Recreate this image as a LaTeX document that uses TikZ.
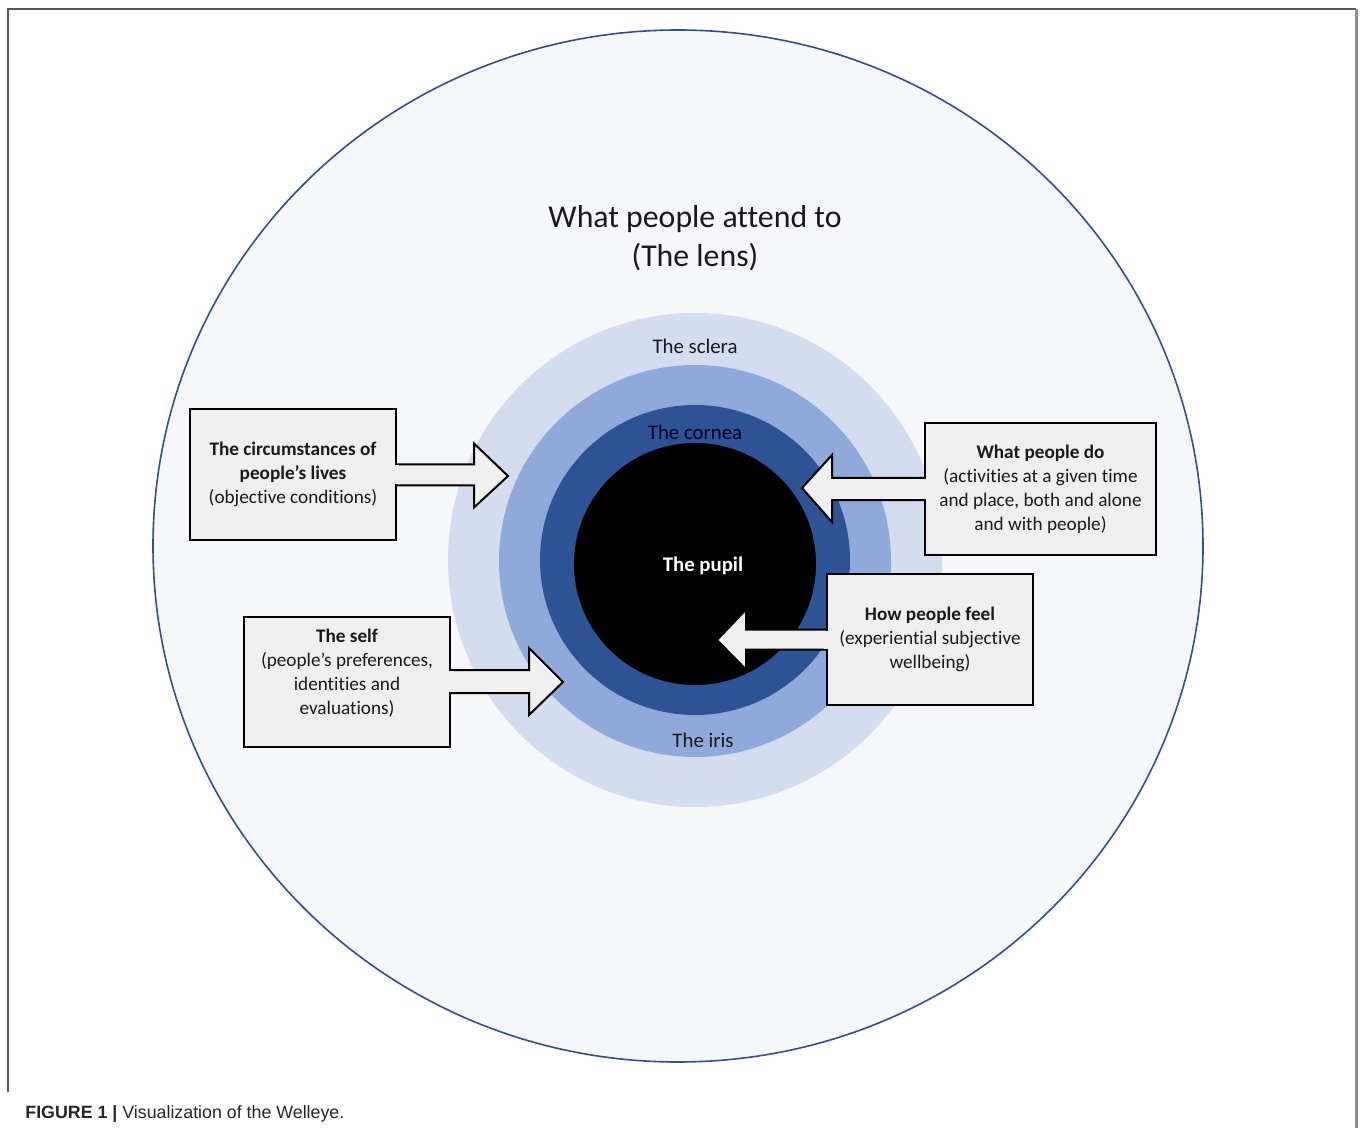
\documentclass[tikz,border=0pt]{standalone}
\usepackage{fontspec}
\setmainfont{Carlito}[Ligatures=NoCommon]
\newfontfamily\capfont{Liberation Sans}
\usetikzlibrary{calc}
\definecolor{lensfill}{HTML}{F5F7FB}
\definecolor{lensline}{HTML}{2F4F8F}
\definecolor{sclerablue}{HTML}{D4DDEF}
\definecolor{irisblue}{HTML}{8FA9DA}
\definecolor{corneablue}{HTML}{2E5394}
\definecolor{boxgray}{HTML}{EFEFEF}
\definecolor{framegray}{HTML}{555555}
\tikzset{
 welbox/.style={draw=black,fill=boxgray,line width=1pt,inner sep=0pt,align=center,
   font=\fontsize{9.6}{12}\selectfont,text=black!90},
 blockarrow/.style={draw=black,fill=boxgray,line width=1pt},
 ringlabel/.style={font=\fontsize{10.4}{12}\selectfont,text=black!90}
}
\begin{document}
\begin{tikzpicture}[x=0.5pt,y=-0.5pt,line join=miter]
 \useasboundingbox (0,0) rectangle (1360,1128);
 \fill[white] (0,0) rectangle (1360,1128);
 % frame
 \draw[framegray,line width=1pt] (8,1092)--(8,9)--(1356,9);
 \draw[black!45,line width=1.5pt] (1356,9)--(1356,1128);
 % the eye
 \filldraw[fill=lensfill,draw=lensline,line width=0.8pt] (678,546) ellipse [x radius=525,y radius=516];
 \fill[sclerablue] (695,560) circle[radius=247];
 \fill[irisblue] (695,561) circle[radius=196];
 \fill[corneablue] (695,560) circle[radius=155];
 \fill[black] (695,564) circle[radius=121];
 \node[ringlabel] (sclera) at (695,346) {The sclera};
 \node[ringlabel,text=black!85!blue] (cornea) at (695,432) {The cornea};
 \node[ringlabel,text=white,font=\fontsize{10.4}{12}\selectfont\bfseries] (pupil) at (703,566) {The pupil};
 \node[ringlabel] (iris) at (703,740) {The iris};
 \node[align=center,font=\fontsize{15.9}{19.5}\selectfont,text=black!90] (lens) at (695,238) {What people attend to\\(The lens)};
 % boxes
 \node[welbox,minimum width=103pt,minimum height=65.5pt] (circ) at (293,474.5)
   {\textbf{The circumstances of}\\\textbf{people’s lives}\\(objective conditions)};
 \node[welbox,minimum width=115.5pt,minimum height=66pt] (do) at (1040.5,489)
   {\textbf{What people do}\\(activities at a given time\\and place, both and alone\\and with people)};
 \node[welbox,minimum width=103pt,minimum height=65pt] (self) at (347,682)
   {\textbf{The self}\\(people’s preferences,\\identities and\\evaluations)\\[-2pt]\mbox{}};
 \node[welbox,minimum width=103pt,minimum height=65.5pt] (feel) at (930,639.5)
   {\textbf{How people feel}\\(experiential subjective\\wellbeing)};
 % arrow tips
 \coordinate (circtip) at (508,476);
 \coordinate (dotip) at (802,488);
 \coordinate (selftip) at (563,682);
 \coordinate (feeltip) at (717,640);
 % arrows
 \draw[blockarrow] ($(circ.east)+(0,-10)$) -- ++(77,0) -- ++(0,-21) -- (circtip)
   -- ($(circ.east)+(77,33)$) -- ++(0,-22) -- ($(circ.east)+(0,11)$);
 \fill[boxgray] ($(circ.east)+(-1.6,-9)$) rectangle ($(circ.east)+(1.6,10)$);
 \draw[blockarrow] ($(do.west)+(0,-11)$) -- ++(-92,0) -- ++(0,-23) -- (dotip)
   -- ($(do.west)+(-92,33)$) -- ++(0,-22) -- ($(do.west)+(0,11)$);
 \fill[boxgray] ($(do.west)+(-1.6,-10)$) rectangle ($(do.west)+(1.6,10)$);
 \draw[blockarrow] ($(self.east)+(0,-12)$) -- ++(78,0) -- ++(0,-22) -- (selftip)
   -- ($(self.east)+(78,33)$) -- ++(0,-22) -- ($(self.east)+(0,11)$);
 \fill[boxgray] ($(self.east)+(-1.6,-11)$) rectangle ($(self.east)+(1.6,10)$);
 \draw[blockarrow] ($(feel.west)+(0,-10)$) -- ++(-80,0) -- ++(0,-20) -- (feeltip)
   -- ($(feel.west)+(-80,30)$) -- ++(0,-20) -- ($(feel.west)+(0,10)$);
 \fill[boxgray] ($(feel.west)+(-1.6,-9)$) rectangle ($(feel.west)+(1.6,9)$);
 % caption
 \node[anchor=base west,inner sep=0pt,font=\capfont\fontsize{8.9}{10}\selectfont,text=black!85] (caption) at (25,1118)
   {\textbf{FIGURE 1 |} Visualization of the Welleye.};
\end{tikzpicture}
\end{document}
